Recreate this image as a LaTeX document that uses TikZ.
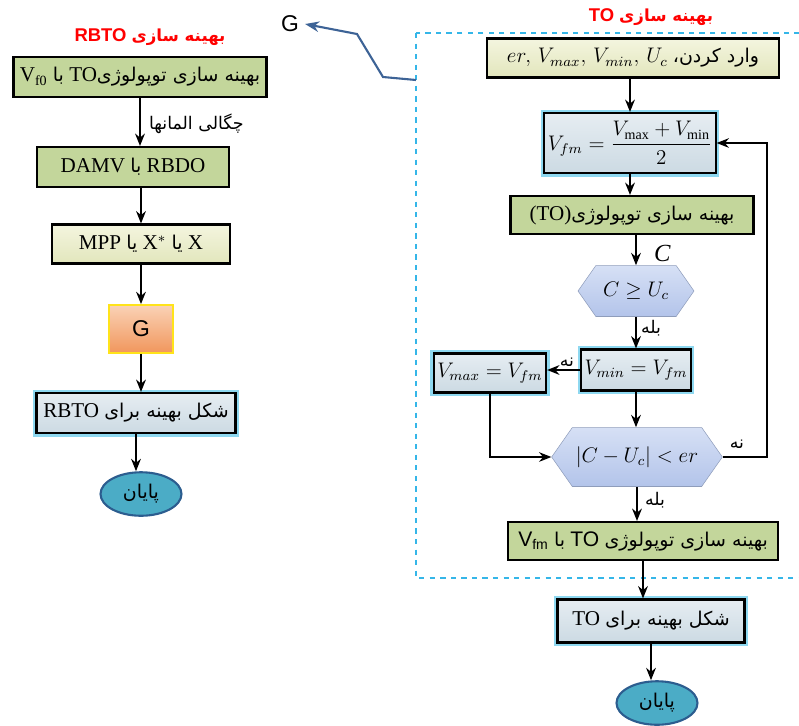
\documentclass[tikz,border=0pt]{standalone}
\usepackage{fontspec}
\setmainfont{Liberation Serif}
\newfontfamily\fa[Script=Arabic,Scale=0.9]{DejaVu Sans}
\newfontfamily\sansf{Liberation Sans}
\usetikzlibrary{positioning,arrows.meta,shapes.geometric,shapes.symbols}
\TeXXeTstate=1
\definecolor{boxgreen}{HTML}{C3D69B}
\definecolor{paleyellow}{HTML}{F4F5DF}
\definecolor{dullyellow}{HTML}{E2E6BC}
\definecolor{paleblue}{HTML}{E6EDF2}
\definecolor{dullblue}{HTML}{CCDAE3}
\definecolor{glowcyan}{HTML}{8ED8F0}
\definecolor{hextop}{HTML}{D6E0F5}
\definecolor{hexbottom}{HTML}{B3C4EA}
\definecolor{gtop}{HTML}{FAD2B6}
\definecolor{gbottom}{HTML}{F1965C}
\definecolor{gborder}{HTML}{FFE31A}
\definecolor{endfill}{HTML}{4BACC6}
\definecolor{enddraw}{HTML}{2C5D8F}
\definecolor{framecyan}{HTML}{35B6E8}
\definecolor{gline}{HTML}{3D6396}
\newcommand{\fatxt}[1]{{\fa\beginR #1\endR}}

\begin{document}
\begin{tikzpicture}[
  x=0.02cm, y=-0.02cm,
  every node/.style={font=\fontsize{12}{14}\selectfont},
  greenbox/.style={
    draw,
    line width=1.2pt,
    fill=boxgreen,
    inner sep=2pt
  },
  yellowbox/.style={
    draw,
    line width=1.2pt,
    top color=paleyellow,
    bottom color=dullyellow,
    inner sep=2pt
  },
  bluebox/.style={
    draw,
    line width=1.2pt,
    top color=paleblue,
    bottom color=dullblue,
    preaction={draw=glowcyan, line width=4pt},
    inner sep=2pt
  },
  hexnode/.style={
    signal,
    signal to=east and west,
    signal pointer angle=110,
    top color=hextop,
    bottom color=hexbottom,
    draw=hexbottom!80!black,
    line width=0.3pt,
    inner sep=2pt
  },
  gbox/.style={
    draw=gborder,
    line width=1pt,
    top color=gtop,
    bottom color=gbottom,
    minimum width=1.28cm,
    minimum height=0.96cm,
    font=\sansf\fontsize{13}{15}\selectfont
  },
  endnode/.style={
    ellipse,
    draw=enddraw,
    line width=1.2pt,
    fill=endfill,
    minimum width=1.62cm,
    minimum height=0.84cm
  },
  titletext/.style={text=red, font=\sansf\bfseries\fontsize{10.5}{13}\selectfont},
  smalllabel/.style={font=\fontsize{11}{13}\selectfont, inner sep=1pt},
  arrow/.style={-{Stealth[length=7pt,width=5.5pt]}, line width=1.2pt},
  thinarrow/.style={-{Stealth[length=7pt,width=5.5pt]}, line width=0.7pt},
  frame/.style={draw=framecyan, dashed, line width=0.8pt},
  garrow/.style={-{Stealth[length=8pt,width=6pt]}, draw=gline, line width=1.2pt}
]
  \useasboundingbox (0,0) rectangle (799,725);

  \node[titletext] (ttlL) at (150,37) {RBTO \fatxt{بهینه سازی}};
  \node[greenbox, minimum width=5.06cm, minimum height=0.8cm] (box1) at (140,77)
    {V\textsubscript{f0} \fatxt{با} TO\fatxt{بهینه سازی توپولوژی}};
  \node[greenbox, minimum width=3.84cm, minimum height=0.8cm] (box2) at (133,167)
    {DAMV \fatxt{با} RBDO};
  \node[yellowbox, minimum width=3.56cm, minimum height=0.78cm] (box3) at (141,244)
    {MPP \fatxt{یا} X$^{*}$\ \fatxt{یا} X};
  \node[gbox] (gL) at (141,329) {G};
  \node[bluebox, minimum width=3.98cm, minimum height=0.8cm] (box4) at (136,413)
    {RBTO \fatxt{شکل بهینه برای}};
  \node[endnode] (endL) at (141,494) {\fatxt{پایان}};
  \node[smalllabel, anchor=west] (dens) at (147,124) {\fatxt{چگالی المانها}};

  \draw[arrow] (box1.south) -- (box1.south |- box2.north);
  \draw[arrow] (box3.north |- box2.south) -- (box3.north);
  \draw[arrow] (box3.south) -- (gL.north);
  \draw[arrow] (gL.south) -- (gL.south |- box4.north);
  \draw[arrow] (box4.south) -- (box4.south |- endL.north);

  \node[titletext] (ttlR) at (651,17) {TO \fatxt{بهینه سازی}};
  \draw[frame] (416,33) rectangle (806,578);
  \node[font=\sansf\fontsize{13}{15}\selectfont] (gR) at (290,24) {G};
  \coordinate (gstart) at (416,80);
  \coordinate (gbend1) at (383,77);
  \coordinate (gbend2) at (357,34);
  \draw[garrow] (gstart) -- (gbend1) -- (gbend2) -- (gR.east);

  \node[yellowbox, minimum width=5.84cm, minimum height=0.78cm] (r1) at (633,58)
    {$er,\,V_{max},\,V_{min},\,U_c$ \fatxt{وارد کردن،}};
  \node[bluebox, minimum width=2.9cm, minimum height=1.2cm] (r2) at (630,143)
    {$V_{fm}=\displaystyle\frac{V_{\max}+V_{\min}}{2}$};
  \node[greenbox, minimum width=4.86cm, minimum height=0.76cm] (r3) at (632,215)
    {(TO)\fatxt{بهینه سازی توپولوژی}};
  \node[hexnode, minimum width=2.32cm, minimum height=1.02cm] (hex1) at (636,291)
    {$C\geq U_c$};
  \node[bluebox, minimum width=2.06cm, minimum height=0.82cm] (r4) at (636,370)
    {$V_{min}=V_{fm}$};
  \node[bluebox, minimum width=2.08cm, minimum height=0.78cm] (r5) at (490,373)
    {$V_{max}=V_{fm}$};
  \node[hexnode, minimum width=3.3cm, minimum height=1.18cm] (hex2) at (637,457)
    {$\left|C-U_c\right|<er$};
  \node[greenbox, minimum width=5.4cm, minimum height=0.76cm] (r6) at (643,541)
    {{\sansf V\textsubscript{fm}} \fatxt{با} {\sansf TO} \fatxt{بهینه سازی توپولوژی}};
  \node[bluebox, minimum width=3.74cm, minimum height=0.86cm] (r7) at (651,621)
    {TO \fatxt{شکل بهینه برای}};
  \node[endnode] (endR) at (657,703) {\fatxt{پایان}};
  \coordinate (loopx) at (767,457);

  \draw[arrow] (r1.south -| r2.north) -- (r2.north);
  \draw[arrow] (r2.south) -- (r2.south |- r3.north);
  \draw[arrow] (hex1.north |- r3.south) -- (hex1.north);
  \draw[arrow] (hex1.south) -- (hex1.south |- r4.north);
  \draw[arrow] (r4.west) -- (r4.west -| r5.east);
  \draw[arrow] (r4.south) -- (r4.south |- hex2.north);
  \draw[thinarrow] (r5.south) |- (hex2.west);
  \draw[thinarrow] (hex2.east) -- (loopx) |- (r2.east);
  \draw[arrow] (hex2.south) -- (hex2.south |- r6.north);
  \draw[arrow] (r6.south) -- (r6.south |- r7.north);
  \draw[arrow] (r7.south) -- (r7.south |- endR.north);

  \node[font=\itshape\fontsize{14}{16}\selectfont, anchor=west] (clab) at (648,253) {C};
  \node[smalllabel, anchor=west] (yes1) at (639,328) {\fatxt{بله}};
  \node[smalllabel] (no1) at (567,362) {\fatxt{نه}};
  \node[smalllabel] (no2) at (737,444) {\fatxt{نه}};
  \node[smalllabel, anchor=west] (yes2) at (643,500) {\fatxt{بله}};
\end{tikzpicture}
\end{document}
